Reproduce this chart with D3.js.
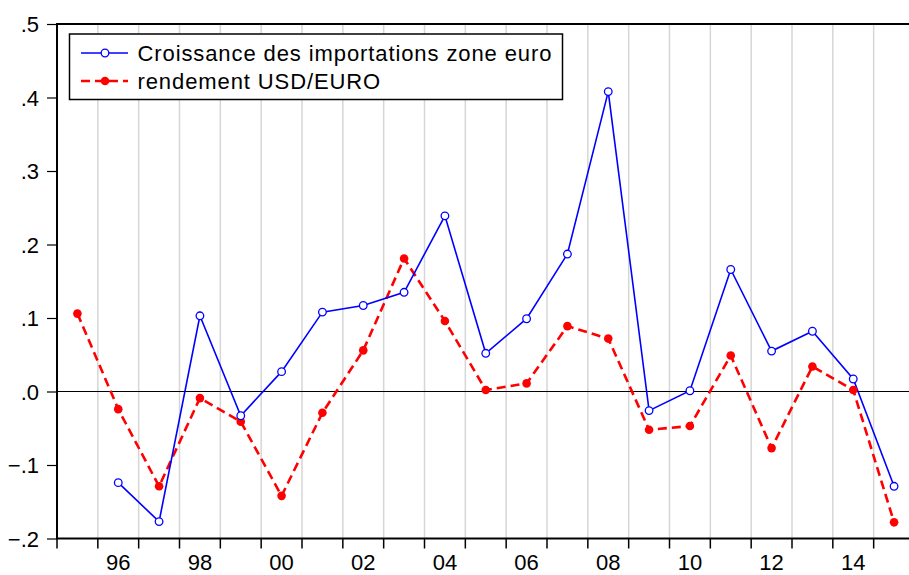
<!DOCTYPE html>
<html>
<head>
	<meta charset="utf-8">
	<title>Importations zone euro vs USD/EURO</title>
	<style>
		body {
			margin: 0;
			background: #fff;
			font-family: "Liberation Sans", Arial, sans-serif;
		}
		svg text {
			fill: #000;
		}
		.grid line {
			stroke: #d6d6d6;
			stroke-width: 1.5;
		}
	</style>
</head>
<body>
	<div id="drawing"></div>

	<script src="https://cdnjs.cloudflare.com/ajax/libs/d3/7.8.5/d3.min.js"></script>
	<script>
	// Data (annual, 1995 - 2015)
	var years = d3.range(1995, 2016)

	var importGrowth = [null, -0.124, -0.177, 0.103, -0.033, 0.027, 0.108, 0.117, 0.135, 0.239,
		0.052, 0.099, 0.187, 0.408, -0.026, 0.001, 0.166, 0.055, 0.082, 0.017, -0.129]

	var usdEuro = [0.106, -0.024, -0.129, -0.009, -0.041, -0.142, -0.029, 0.056, 0.181, 0.096,
		0.002, 0.011, 0.089, 0.072, -0.052, -0.047, 0.049, -0.077, 0.034, 0.002, -0.178]

	var yTicks = [-0.2, -0.1, 0, 0.1, 0.2, 0.3, 0.4, 0.5]
	var xLabelYears = [1996, 1998, 2000, 2002, 2004, 2006, 2008, 2010, 2012, 2014]

	var seriesNames = ["Croissance des importations zone euro", "rendement USD/EURO"]

	// Settings
	var canvasWidth = 909,
		canvasHeight = 575,
		plotLeft   = 57,
		plotRight  = 914.5, // plot runs a bit past the picture edge
		plotTop    = 24,
		plotBottom = 538.5

	var svg = d3.select("#drawing").append("svg")
		.attr("width", canvasWidth)
		.attr("height", canvasHeight)

	// Scales
	var x = d3.scaleBand().domain(years).range([plotLeft, plotRight]).padding(0)
	var y = d3.scaleLinear().domain([-0.2, 0.5]).range([plotBottom, plotTop])
	var mid = function(yr){ return x(yr) + x.bandwidth()/2 }

	// Vertical gridlines at the year boundaries
	svg.append("g").attr("class", "grid")
		.selectAll("line")
		.data(years.slice(1))
		.enter().append("line")
		.attr("x1", function(d){ return x(d) })
		.attr("x2", function(d){ return x(d) })
		.attr("y1", plotTop)
		.attr("y2", plotBottom)

	// Zero line
	svg.append("line")
		.attr("x1", plotLeft).attr("x2", plotRight)
		.attr("y1", y(0)).attr("y2", y(0))
		.attr("stroke", "#000").attr("stroke-width", 1.2)

	// Y axis
	var fmt = function(d){
		return d3.format(".1f")(d).replace("0.", ".")
	}
	var yAxis = d3.axisLeft(y).tickValues(yTicks).tickFormat(fmt).tickSize(10).tickPadding(8)
	var yg = svg.append("g")
		.attr("transform", "translate(" + plotLeft + ",0)")
		.call(yAxis)
	yg.select(".domain").remove()
	yg.selectAll(".tick line").attr("stroke", "#000").attr("stroke-width", 1.2)
	yg.selectAll("text")
		.style("font-family", "'Liberation Sans', Arial, sans-serif")
		.style("font-size", "22px")
		.attr("dy", "0.36em")

	// X axis: ticks at boundaries, labels centred in every other year
	var xg = svg.append("g").attr("transform", "translate(0," + plotBottom + ")")
	xg.selectAll("line")
		.data(years)
		.enter().append("line")
		.attr("x1", function(d){ return x(d) })
		.attr("x2", function(d){ return x(d) })
		.attr("y1", 0).attr("y2", 10)
		.attr("stroke", "#000").attr("stroke-width", 1.5)
	xg.selectAll("text")
		.data(xLabelYears)
		.enter().append("text")
		.attr("x", function(d){ return mid(d) })
		.attr("y", 31)
		.attr("text-anchor", "middle")
		.style("font-size", "22px")
		.text(function(d){ return String(d).slice(2) })

	// Frame
	svg.append("rect")
		.attr("x", plotLeft).attr("y", plotTop)
		.attr("width", plotRight - plotLeft).attr("height", plotBottom - plotTop)
		.attr("fill", "none").attr("stroke", "#000").attr("stroke-width", 2)

	// Lines
	var line = d3.line()
		.defined(function(d){ return d.v !== null })
		.x(function(d){ return mid(d.year) })
		.y(function(d){ return y(d.v) })

	var blueData = years.map(function(yr, i){ return {year: yr, v: importGrowth[i]} })
	var redData = years.map(function(yr, i){ return {year: yr, v: usdEuro[i]} })

	svg.append("path").datum(redData)
		.attr("d", line)
		.attr("fill", "none").attr("stroke", "#ff0000")
		.attr("stroke-width", 2.6).attr("stroke-dasharray", "9,5")

	svg.append("path").datum(blueData)
		.attr("d", line)
		.attr("fill", "none").attr("stroke", "#0000ff")
		.attr("stroke-width", 1.6)

	// Markers
	svg.append("g").selectAll("circle")
		.data(redData)
		.enter().append("circle")
		.attr("cx", function(d){ return mid(d.year) })
		.attr("cy", function(d){ return y(d.v) })
		.attr("r", 4.3)
		.attr("fill", "#ff0000")

	svg.append("g").selectAll("circle")
		.data(blueData.filter(function(d){ return d.v !== null }))
		.enter().append("circle")
		.attr("cx", function(d){ return mid(d.year) })
		.attr("cy", function(d){ return y(d.v) })
		.attr("r", 3.8)
		.attr("fill", "#fff").attr("stroke", "#0000ff").attr("stroke-width", 1.3)

	// Legend
	var legend = svg.append("g")
	legend.append("rect")
		.attr("x", 69.5).attr("y", 34)
		.attr("width", 493).attr("height", 65.5)
		.attr("fill", "#fff").attr("stroke", "#000").attr("stroke-width", 1.5)

	var rows = [
		{name: seriesNames[0], y: 53, color: "#0000ff", dash: null, width: 1.6, fill: "#fff"},
		{name: seriesNames[1], y: 81, color: "#ff0000", dash: "9,5", width: 2.6, fill: "#ff0000"}
	]
	rows.forEach(function(r){
		legend.append("line")
			.attr("x1", 81).attr("x2", 128)
			.attr("y1", r.y).attr("y2", r.y)
			.attr("stroke", r.color).attr("stroke-width", r.width)
			.attr("stroke-dasharray", r.dash)
		legend.append("circle")
			.attr("cx", 105).attr("cy", r.y)
			.attr("r", r.fill === "#fff" ? 3.8 : 4.3)
			.attr("fill", r.fill)
			.attr("stroke", r.fill === "#fff" ? r.color : "none")
			.attr("stroke-width", 1.3)
		legend.append("text")
			.attr("x", 137.5).attr("y", r.y + 8)
			.style("font-size", "22px")
			.style("letter-spacing", "0.9px")
			.text(r.name)
	})
	</script>
</body>
</html>
